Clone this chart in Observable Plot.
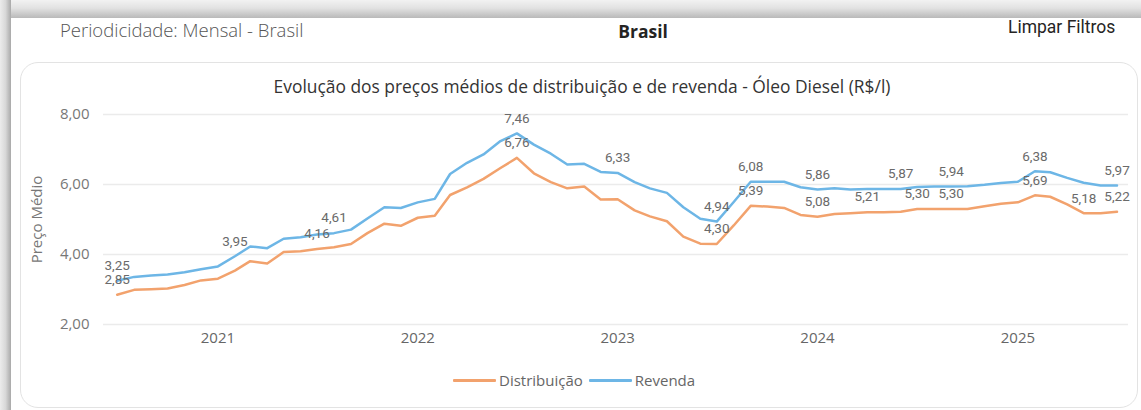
<!DOCTYPE html>
<html>
<head>
<meta charset="utf-8">
<script src="https://cdn.jsdelivr.net/npm/d3@7"></script>
<script src="https://cdn.jsdelivr.net/npm/@observablehq/plot@0.6"></script>
<style>
  html, body { margin: 0; padding: 0; background: #ffffff; width: 1141px; height: 410px; overflow: hidden; position: relative; font-family: "Open Sans", "Noto Sans", sans-serif; }
  .band-top { position: absolute; left: 0; top: 0; width: 1141px; height: 18px; background: linear-gradient(to bottom, #f2f2f2 0%, #e2e2e2 45%, #b9b9b9 100%); }
  .band-left { position: absolute; left: 0; top: 0; width: 11px; height: 410px; background: linear-gradient(to right, #ececec 0%, #d8d8d8 50%, #a9a9a9 100%); }
  .hdr { position: absolute; white-space: nowrap; line-height: 24px; }
  #period { left: 60px; top: 18px; font-size: 18.5px; font-weight: 300; color: #555; }
  #brasil { left: 643px; top: 19px; transform: translateX(-50%); font-size: 17.5px; font-weight: 700; color: #252423; }
  #limpar { left: 1008px; top: 15px; font-size: 17.5px; color: #252423; font-family: "Roboto", sans-serif; }
  .card { position: absolute; left: 20px; top: 62px; width: 1116px; height: 344px; border: 1px solid #e3e3e3; border-radius: 18px; background: #fff; }
  #title { position: absolute; left: 582px; top: 74px; transform: translateX(-50%); white-space: nowrap; font-size: 17.4px; color: #333; line-height: 24px; }
  #chart { position: absolute; left: 0; top: 95px; }
  #legend { position: absolute; left: 453px; top: 370px; display: flex; align-items: center; font-size: 15px; color: #666; white-space: nowrap; line-height: 20px; }
  .sw { display: inline-block; width: 43px; height: 3px; border-radius: 1px; margin-right: 3px; }
  .item { display: flex; align-items: center; margin-right: 6px; }
</style>
</head>
<body>
<div class="band-top"></div>
<div class="band-left"></div>
<div class="hdr" id="period">Periodicidade: Mensal - Brasil</div>
<div class="hdr" id="brasil">Brasil</div>
<div class="hdr" id="limpar">Limpar Filtros</div>
<div class="card"></div>
<div id="title">Evolução dos preços médios de distribuição e de revenda - Óleo Diesel (R$/l)</div>
<div id="chart"></div>
<div id="legend"></div>
<script>
const months = [
  "2020-07","2020-08","2020-09","2020-10","2020-11","2020-12",
  "2021-01","2021-02","2021-03","2021-04","2021-05","2021-06","2021-07","2021-08","2021-09","2021-10","2021-11","2021-12",
  "2022-01","2022-02","2022-03","2022-04","2022-05","2022-06","2022-07","2022-08","2022-09","2022-10","2022-11","2022-12",
  "2023-01","2023-02","2023-03","2023-04","2023-05","2023-06","2023-07","2023-08","2023-09","2023-10","2023-11","2023-12",
  "2024-01","2024-02","2024-03","2024-04","2024-05","2024-06","2024-07","2024-08","2024-09","2024-10","2024-11","2024-12",
  "2025-01","2025-02","2025-03","2025-04","2025-05","2025-06","2025-07"
];
const distribuicao = [
  2.85, 2.99, 3.01, 3.03, 3.13, 3.26,
  3.31, 3.54, 3.81, 3.74, 4.07, 4.09, 4.16, 4.21, 4.30, 4.61, 4.88, 4.82,
  5.05, 5.11, 5.70, 5.92, 6.16, 6.47, 6.76, 6.32, 6.07, 5.89, 5.94, 5.57,
  5.58, 5.26, 5.09, 4.95, 4.51, 4.31, 4.30, 4.83, 5.39, 5.37, 5.33, 5.13,
  5.08, 5.16, 5.18, 5.21, 5.21, 5.22, 5.30, 5.30, 5.30, 5.30, 5.38, 5.45,
  5.49, 5.69, 5.65, 5.43, 5.18, 5.18, 5.22
];
const revenda = [
  3.25, 3.36, 3.40, 3.43, 3.49, 3.58,
  3.66, 3.95, 4.23, 4.18, 4.45, 4.49, 4.57, 4.61, 4.71, 5.03, 5.35, 5.33,
  5.49, 5.59, 6.30, 6.62, 6.86, 7.24, 7.46, 7.14, 6.88, 6.57, 6.59, 6.36,
  6.33, 6.07, 5.89, 5.76, 5.35, 5.02, 4.94, 5.50, 6.08, 6.08, 6.08, 5.92,
  5.86, 5.89, 5.86, 5.87, 5.87, 5.87, 5.93, 5.94, 5.94, 5.95, 5.99, 6.04,
  6.08, 6.38, 6.35, 6.19, 6.05, 5.97, 5.97
];
const labeledDistribuicao = ["2020-07","2021-07","2022-07","2023-07","2023-09","2024-01","2024-04","2024-07","2024-09","2025-02","2025-05","2025-07"];
const labeledRevenda = ["2020-07","2021-02","2021-08","2022-07","2023-01","2023-07","2023-09","2024-01","2024-06","2024-09","2025-02","2025-07"];
const seriesNames = ["Distribuição", "Revenda"];
const seriesColors = ["#F2A26D", "#6DB6E6"];
const yTicks = [2, 4, 6, 8];
const yearTicks = ["2021", "2022", "2023", "2024", "2025"];
const yTitle = "Preço Médio";

const parseMonth = d3.utcParse("%Y-%m");
const parseYear = d3.utcParse("%Y");
const fmt = v => v.toFixed(2).replace(".", ",");

const rows = [];
months.forEach((m, i) => {
  rows.push({date: parseMonth(m), value: distribuicao[i], serie: seriesNames[0], label: labeledDistribuicao.includes(m)});
});
months.forEach((m, i) => {
  rows.push({date: parseMonth(m), value: revenda[i], serie: seriesNames[1], label: labeledRevenda.includes(m)});
});

const chart = Plot.plot({
  width: 1141,
  height: 265,
  marginTop: 19,
  marginBottom: 36,
  marginLeft: 103,
  marginRight: 13,
  style: {fontFamily: "'Open Sans', 'Noto Sans', sans-serif", fontSize: "15px", color: "#777", background: "transparent", overflow: "visible"},
  x: {type: "utc", domain: [new Date(Date.UTC(2020, 5, 6)), new Date(Date.UTC(2025, 6, 22))]},
  y: {domain: [2, 8]},
  color: {domain: seriesNames, range: seriesColors},
  marks: [
    Plot.ruleY(yTicks, {stroke: "#ebebeb", strokeWidth: 1.5}),
    Plot.axisY({ticks: yTicks, tickSize: 0, tickPadding: 14, tickFormat: fmt, label: null, fill: "#777", fontSize: 15}),
    Plot.axisX({ticks: yearTicks.map(parseYear), tickFormat: "%Y", tickSize: 0, tickPadding: 8, label: null, fill: "#666", fontSize: 15}),
    Plot.text([yTitle], {frameAnchor: "left", textAnchor: "middle", dx: -66, rotate: -90, fill: "#777", fontSize: 15}),
    Plot.line(rows, {x: "date", y: "value", z: "serie", stroke: "serie", strokeWidth: 2.5, curve: "linear"}),
    Plot.text(rows.filter(d => d.label), {x: "date", y: "value", text: d => fmt(d.value), dy: -15, fill: "#6a6a6a", fontSize: 13.5, fontFamily: "Roboto, sans-serif"})
  ]
});
document.getElementById("chart").appendChild(chart);

const legend = document.getElementById("legend");
seriesNames.forEach((name, i) => {
  const item = document.createElement("div");
  item.className = "item";
  const sw = document.createElement("span");
  sw.className = "sw";
  sw.style.background = seriesColors[i];
  const t = document.createElement("span");
  t.textContent = name;
  item.appendChild(sw);
  item.appendChild(t);
  legend.appendChild(item);
});
</script>
</body>
</html>
